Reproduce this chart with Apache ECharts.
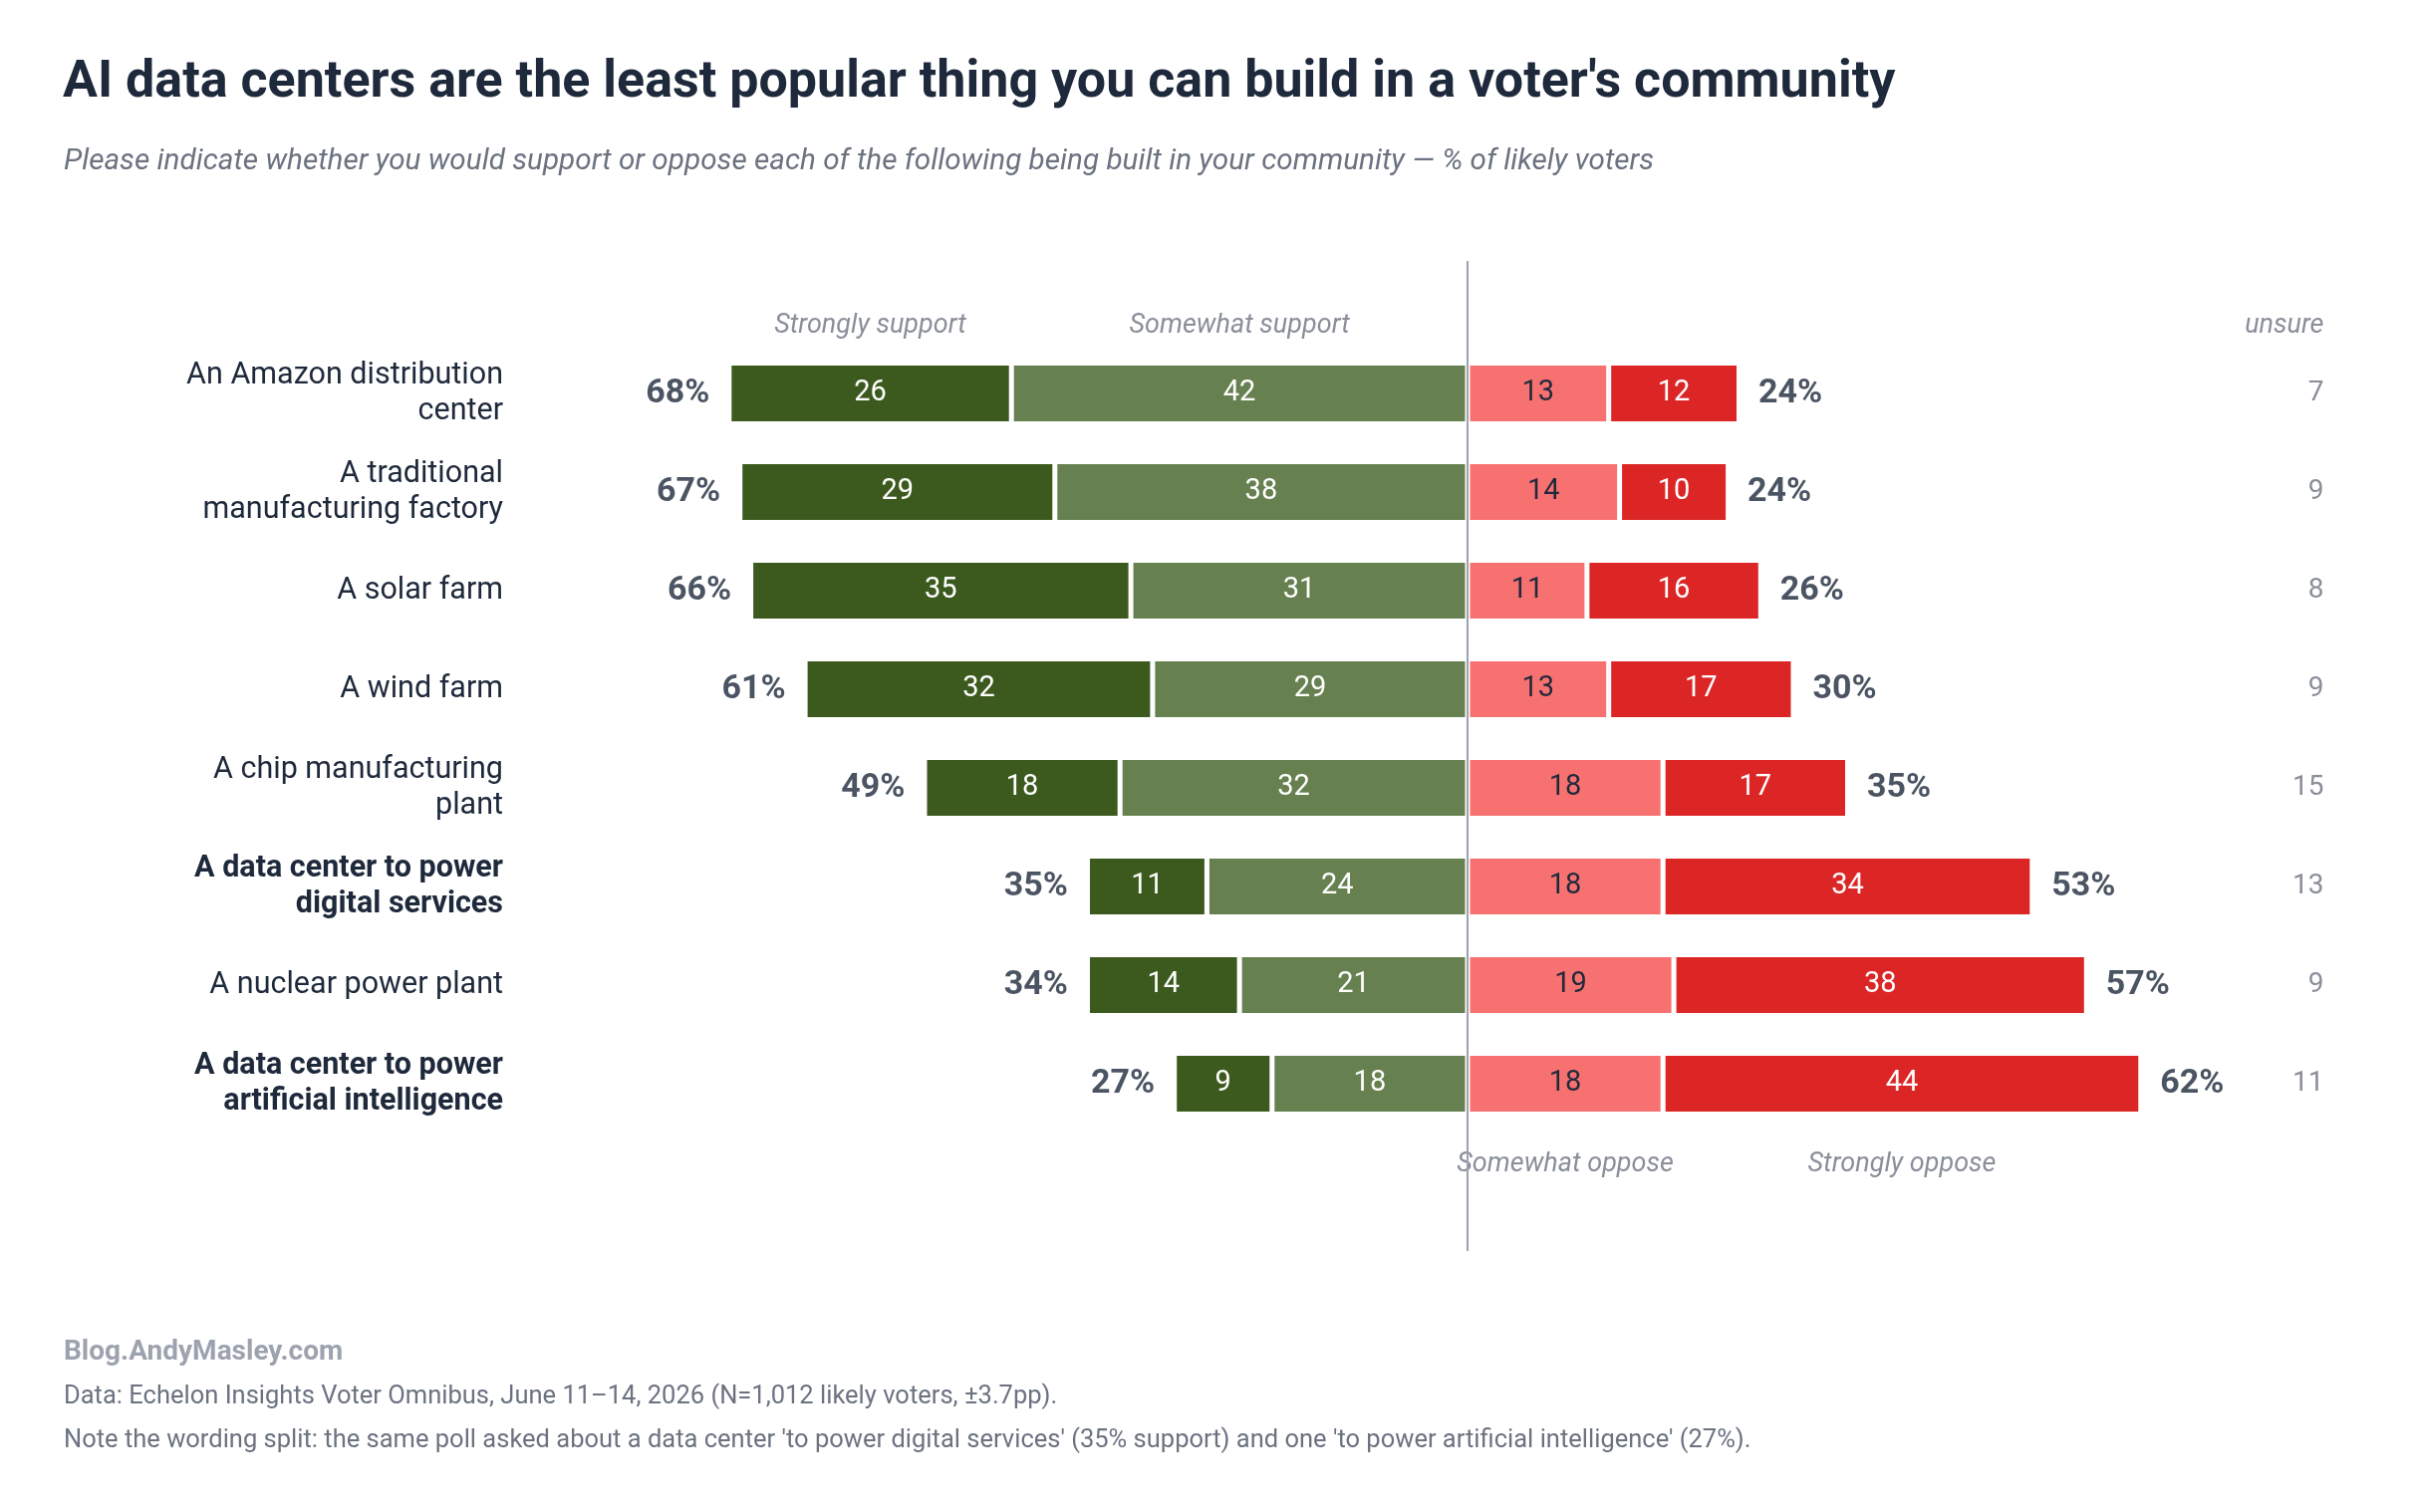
<!DOCTYPE html>
<html>
<head>
<meta charset="utf-8">
<title>AI data centers</title>
<script src="https://cdn.jsdelivr.net/npm/echarts@6.0.0/dist/echarts.min.js"></script>
<style>
  html, body { margin: 0; padding: 0; background: #fff; }
  #chart { width: 2424px; height: 1518px; }
</style>
</head>
<body>
<div id="chart"></div>
<script>
var categories = [
  'An Amazon distribution\ncenter',
  'A traditional\nmanufacturing factory',
  'A solar farm',
  'A wind farm',
  'A chip manufacturing\nplant',
  'A data center to power\ndigital services',
  'A nuclear power plant',
  'A data center to power\nartificial intelligence'
];
var boldRows = [false, false, false, false, false, true, false, true];
var strongSupport = [26, 29, 35, 32, 18, 11, 14, 9];
var someSupport = [42, 38, 31, 29, 32, 24, 21, 18];
var someOppose = [13, 14, 11, 13, 18, 18, 19, 18];
var strongOppose = [12, 10, 16, 17, 17, 34, 38, 44];
var supportTotal = [68, 67, 66, 61, 49, 35, 34, 27];
var opposeTotal = [24, 24, 26, 30, 35, 53, 57, 62];
var unsure = [7, 9, 8, 9, 15, 13, 9, 11];

var FONT = 'Roboto';
var DARK = '#1e293b';
var GRAY = '#6b7280';
var X_MIN = -70, X_MAX = 80;

var chart = echarts.init(document.getElementById('chart'));

function segLabel(color) {
  return {
    show: true,
    position: 'inside',
    color: color,
    fontFamily: FONT,
    fontSize: 29,
    formatter: function (p) { return Math.abs(p.value); }
  };
}

function barSeries(name, data, color, textColor) {
  return {
    name: name,
    type: 'bar',
    stack: 'all',
    barWidth: 61,
    data: data,
    itemStyle: { color: color, borderColor: '#fff', borderWidth: 2.5 },
    label: segLabel(textColor),
    emphasis: { disabled: true }
  };
}

// invisible points that only carry text
function textSeries(points, label) {
  return {
    type: 'scatter',
    symbolSize: 1,
    itemStyle: { color: 'rgba(0,0,0,0)' },
    silent: true,
    z: 5,
    data: points,
    label: Object.assign({ show: true, fontFamily: FONT }, label)
  };
}

function header(text, dy) {
  return { position: 'inside', offset: [0, dy], color: GRAY, fontStyle: 'italic', fontSize: 27, formatter: text };
}

var last = categories.length - 1;

var option = {
  backgroundColor: '#fff',
  animation: false,
  title: [
    {
      text: "AI data centers are the least popular thing you can build in a voter's community",
      left: 58, top: 48,
      textStyle: { fontFamily: FONT, fontSize: 52, lineHeight: 62, fontWeight: 'bold', color: DARK }
    },
    {
      text: 'Please indicate whether you would support or oppose each of the following being built in your community \u2014 % of likely voters',
      left: 59, top: 140,
      textStyle: { fontFamily: FONT, fontSize: 29.7, lineHeight: 36, fontStyle: 'italic', fontWeight: 'normal', color: GRAY }
    },
    {
      text: 'Blog.AndyMasley.com',
      left: 59, top: 1336,
      textStyle: { fontFamily: FONT, fontSize: 28, lineHeight: 34, fontWeight: 'bold', color: '#9ca3af' }
    },
    {
      text: 'Data: Echelon Insights Voter Omnibus, June 11\u201314, 2026 (N=1,012 likely voters, \u00b13.7pp).',
      left: 59, top: 1383,
      textStyle: { fontFamily: FONT, fontSize: 25.5, lineHeight: 30, fontWeight: 'normal', color: GRAY }
    },
    {
      text: "Note the wording split: the same poll asked about a data center 'to power digital services' (35% support) and one 'to power artificial intelligence' (27%).",
      left: 59, top: 1427,
      textStyle: { fontFamily: FONT, fontSize: 25.5, lineHeight: 30, fontWeight: 'normal', color: GRAY }
    }
  ],
  grid: { left: 710, right: 79, top: 345.5, height: 792 },
  xAxis: { type: 'value', min: X_MIN, max: X_MAX, show: false },
  yAxis: {
    type: 'category',
    inverse: true,
    data: categories,
    axisLine: { show: false },
    axisTick: { show: false },
    splitLine: { show: false },
    axisLabel: {
      margin: 205,
      align: 'right',
      formatter: function (v, i) {
        var tag = boldRows[i] ? 'b' : 'n';
        return v.split('\n').map(function (s) { return '{' + tag + '|' + s + '}'; }).join('\n');
      },
      rich: {
        n: { fontFamily: FONT, fontSize: 30.5, lineHeight: 36, color: DARK, align: 'right' },
        b: { fontFamily: FONT, fontSize: 30.5, lineHeight: 36, color: DARK, fontWeight: 'bold', align: 'right' }
      }
    }
  },
  series: [
    barSeries('Somewhat support', someSupport.map(function (v) { return -v; }), '#66804f', '#fff'),
    barSeries('Strongly support', strongSupport.map(function (v) { return -v; }), '#3d5a1e', '#fff'),
    barSeries('Somewhat oppose', someOppose, '#f87171', DARK),
    barSeries('Strongly oppose', strongOppose, '#dc2626', '#fff'),
    // net support / oppose
    textSeries(supportTotal.map(function (t, i) {
      return [-(strongSupport[i] + someSupport[i]), i];
    }), {
      position: 'left', distance: 19, fontSize: 34, fontWeight: 'bold', color: DARK,
      formatter: function (p) { return supportTotal[p.dataIndex] + '%'; }
    }),
    textSeries(opposeTotal.map(function (t, i) {
      return [someOppose[i] + strongOppose[i], i];
    }), {
      position: 'right', distance: 19, fontSize: 34, fontWeight: 'bold', color: DARK,
      formatter: function (p) { return opposeTotal[p.dataIndex] + '%'; }
    }),
    // unsure column
    textSeries(unsure.map(function (u, i) { return [X_MAX, i]; }), {
      position: 'left', distance: 12, fontSize: 28, color: GRAY,
      formatter: function (p) { return unsure[p.dataIndex]; }
    }),
    // column headers, above the first row / below the last row
    textSeries([
      { value: [-(someSupport[0] + strongSupport[0] / 2), 0], label: header('Strongly support', -68) },
      { value: [-someSupport[0] / 2, 0], label: header('Somewhat support', -68) },
      { value: [someOppose[last] / 2, last], label: header('Somewhat oppose', 81) },
      { value: [someOppose[last] + strongOppose[last] / 2, last], label: header('Strongly oppose', 81) }
    ], {}),
    textSeries([[X_MAX, 0]], {
      position: 'left', distance: 12, offset: [0, -68], color: GRAY, fontStyle: 'italic', fontSize: 27,
      formatter: 'unsure'
    })
  ]
};

chart.setOption(option);

// zero line, runs past the bars
var x0 = chart.convertToPixel({ xAxisIndex: 0 }, 0);
chart.setOption({
  graphic: [{
    type: 'line',
    z: 20,
    silent: true,
    shape: { x1: x0, y1: 262, x2: x0, y2: 1256 },
    style: { stroke: '#9ca3af', lineWidth: 2 }
  }]
});
</script>
</body>
</html>
